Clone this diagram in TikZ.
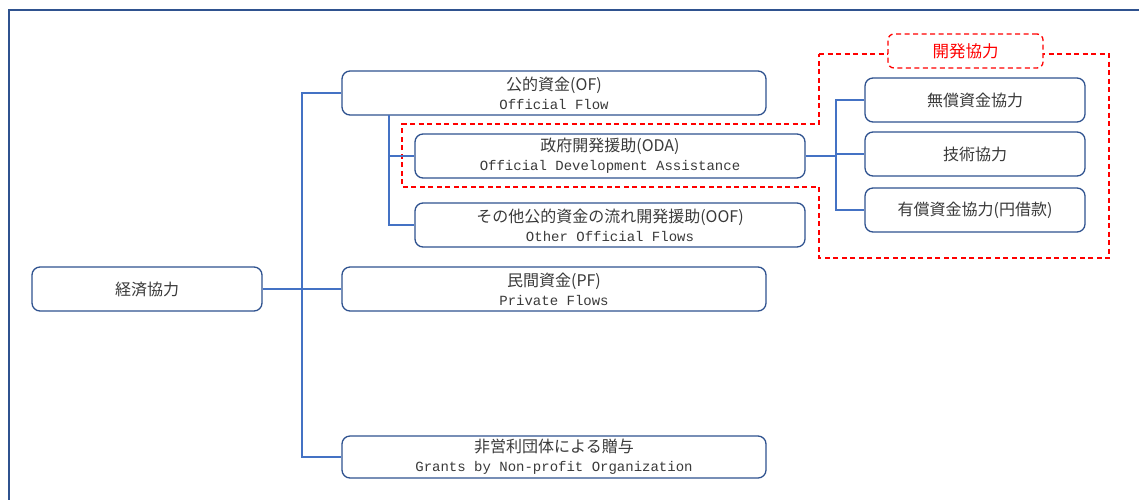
\documentclass[tikz,border=0pt]{standalone}
\usepackage{fontspec}
\setmainfont{Noto Sans CJK JP}
\setmonofont{Liberation Mono}
\definecolor{boxblue}{HTML}{2F528F}
\definecolor{lineblue}{HTML}{4472C4}
\definecolor{txt}{HTML}{3A3A3A}
\definecolor{dashred}{HTML}{FF0000}
\newcommand{\en}[1]{{\fontsize{14}{19}\selectfont\ttfamily #1}}
\tikzset{
  box/.style={draw=boxblue, line width=1.3pt, rounded corners=8pt, fill=white,
    minimum height=44pt, inner sep=0pt, align=center, text=txt,
    font=\fontsize{16}{19}\selectfont},
  conn/.style={draw=lineblue, line width=1.3pt},
  reddash/.style={draw=dashred, line width=1.3pt, dash pattern=on 5pt off 3.5pt},
}
\begin{document}
\begin{tikzpicture}[x=1pt,y=-1pt]
\path[clip] (0,0) rectangle (1139,499);
\fill[white] (0,0) rectangle (1139,499);
% outer frame (cut off at right and bottom)
\draw[boxblue, line width=1.5pt] (9,520) -- (9,10) -- (1160,10);

% red dashed development cooperation region
\draw[reddash] (819,54) -- (1109,54) -- (1109,258) -- (819,258) -- (819,187)
  -- (402,187) -- (402,124) -- (819,124) -- cycle;

% nodes
\node[box, minimum width=230pt] (root) at (147,289) {経済協力};
\node[box, minimum width=424pt] (of) at (554,93) {公的資金(OF)\\\en{Official Flow}};
\node[box, minimum width=390pt] (oda) at (610,156) {政府開発援助(ODA)\\\en{Official Development Assistance}};
\node[box, minimum width=390pt] (oof) at (610,225) {その他公的資金の流れ開発援助(OOF)\\\en{Other Official Flows}};
\node[box, minimum width=424pt] (pf) at (554,289) {民間資金(PF)\\\en{Private Flows}};
\node[box, minimum width=424pt, minimum height=42pt] (gr) at (554,457) {非営利団体による贈与\\\en{Grants by Non-profit Organization}};
\node[box, minimum width=220pt] (ga) at (975,100) {無償資金協力};
\node[box, minimum width=220pt] (tc) at (975,154) {技術協力};
\node[box, minimum width=220pt] (ln) at (975,210) {有償資金協力(円借款)};
\node[reddash, rounded corners=6pt, fill=white, minimum width=155pt, minimum height=34pt,
  inner sep=0pt, text=dashred, font=\fontsize{16.5}{19}\selectfont] (lbl) at (965.5,51) {開発協力};

% junctions
\coordinate (tr) at (302,289);
\coordinate (j1) at (389,115);
\coordinate (j2) at (836,156);

% connectors
\draw[conn] (root.east) -- (pf.west);
\draw[conn] (of.west) -| (tr) |- (gr.west);
\draw[conn] (j1) |- (oda.west);
\draw[conn] (j1) |- (oof.west);
\draw[conn] (oda.east) -- (j2);
\draw[conn] (ga.west) -| (j2) |- (ln.west);
\draw[conn] (tc.west -| j2) -- (tc.west);
\end{tikzpicture}
\end{document}
